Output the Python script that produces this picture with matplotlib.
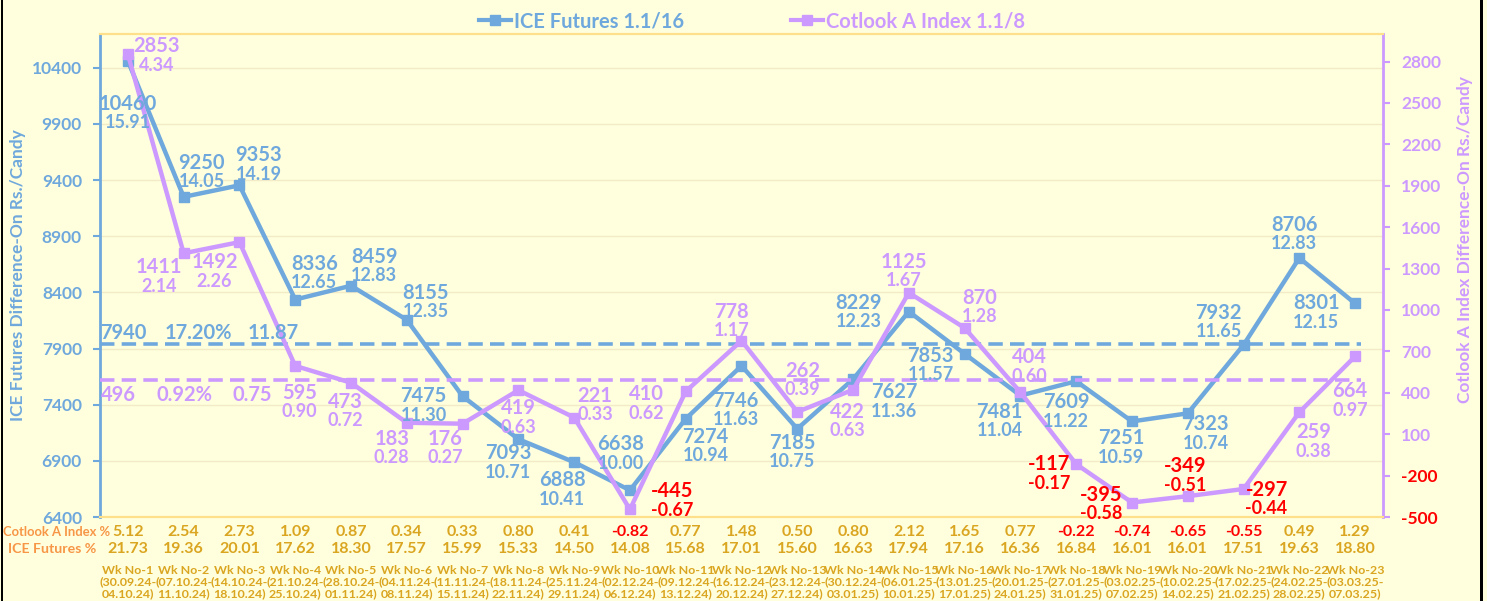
import matplotlib.pyplot as plt
from matplotlib.lines import Line2D
from matplotlib.patches import Rectangle
import matplotlib.transforms as mtransforms

plt.rcParams['font.family'] = ['Lato', 'DejaVu Sans']
plt.rcParams['font.weight'] = 'bold'

# data
weeks = list(range(1, 24))
ice = [10460, 9250, 9353, 8336, 8459, 8155, 7475, 7093, 6888, 6638, 7274, 7746,
       7185, 7627, 8229, 7853, 7481, 7609, 7251, 7323, 7932, 8706, 8301]
ice_pct = ['15.91', '14.05', '14.19', '12.65', '12.83', '12.35', '11.30', '10.71', '10.41',
           '10.00', '10.94', '11.63', '10.75', '11.36', '12.23', '11.57', '11.04', '11.22',
           '10.59', '10.74', '11.65', '12.83', '12.15']
cot = [2853, 1411, 1492, 595, 473, 183, 176, 419, 221, -445, 410, 778,
       262, 422, 1125, 870, 404, -117, -395, -349, -297, 259, 664]
cot_pct = ['4.34', '2.14', '2.26', '0.90', '0.72', '0.28', '0.27', '0.63', '0.33', '-0.67',
           '0.62', '1.17', '0.39', '0.63', '1.67', '1.28', '0.60', '-0.17', '-0.58', '-0.51',
           '-0.44', '0.38', '0.97']
ice_avg = 7940
ice_avg_texts = ['7940', '17.20%', '11.87']
cot_avg = 496
cot_avg_texts = ['496', '0.92%', '0.75']
cot_row = ['5.12', '2.54', '2.73', '1.09', '0.87', '0.34', '0.33', '0.80', '0.41', '-0.82',
           '0.77', '1.48', '0.50', '0.80', '2.12', '1.65', '0.77', '-0.22', '-0.74', '-0.65',
           '-0.55', '0.49', '1.29']
ice_row = ['21.73', '19.36', '20.01', '17.62', '18.30', '17.57', '15.99', '15.33', '14.50',
           '14.08', '15.68', '17.01', '15.60', '16.63', '17.94', '17.16', '16.36', '16.84',
           '16.01', '16.01', '17.51', '19.63', '18.80']
wk_start = ['30.09.24', '07.10.24', '14.10.24', '21.10.24', '28.10.24', '04.11.24', '11.11.24',
            '18.11.24', '25.11.24', '02.12.24', '09.12.24', '16.12.24', '23.12.24', '30.12.24',
            '06.01.25', '13.01.25', '20.01.25', '27.01.25', '03.02.25', '10.02.25', '17.02.25',
            '24.02.25', '03.03.25']
wk_end = ['04.10.24', '11.10.24', '18.10.24', '25.10.24', '01.11.24', '08.11.24', '15.11.24',
          '22.11.24', '29.11.24', '06.12.24', '13.12.24', '20.12.24', '27.12.24', '03.01.25',
          '10.01.25', '17.01.25', '24.01.25', '31.01.25', '07.02.25', '14.02.25', '21.02.25',
          '28.02.25', '07.03.25']

# label offsets in pixels (dx, dy; dy positive = down)
ice_off = [(0, 43), (18, -34), (19, -30), (19, -36), (23, -29), (19, -27), (-39, 0),
           (-10, 14), (-12, 18), (-9, -46), (20, 18), (-6, 35), (-5, 14), (41, 13),
           (-50, -9), (-34, 2), (-21, 16), (-10, 21), (-11, 17), (18, 11), (-25, -32),
           (-5, -33), (-39, 0)]
cot_off = [(29, -8), (-25, 14), (-25, 20), (4, 27), (-6, 19), (-15, 16), (-17, 15),
           (0, 18), (21, -22), (42, -18), (-39, 3), (-10, -29), (5, -41), (-6, 22),
           (-5, -31), (15, -30), (9, -35), (-27, 0), (-31, -8), (-3, -30), (23, 1),
           (14, 20), (-5, 35)]

blue = '#6FA8DC'
purple = '#CC99FF'
red = '#FF0000'
gold = '#DAA520'
orange = '#F79646'
bg = '#FFFFDD'

W, H = 1487, 601
fig = plt.figure(figsize=(W / 100, H / 100), dpi=100, facecolor=bg)
ax = fig.add_axes([100 / W, (H - 517) / H, (1383 - 100) / W, (517 - 34) / H])
ax.set_facecolor(bg)
ax2 = ax.twinx()

ax.plot(weeks, ice, color=blue, lw=3.2, marker='s', ms=6.5, zorder=3)
ax2.plot(weeks, cot, color=purple, lw=3.2, marker='s', ms=6.5, zorder=3)
ax.hlines(ice_avg, 0.5, 23.1, colors=blue, linestyles=(0, (4, 2)), lw=2.6, zorder=2)
ax2.hlines(cot_avg, 0.5, 23.1, colors=purple, linestyles=(0, (4, 2)), lw=2.6, zorder=2)

ax.set_xlim(0.5, 23.5)
ax.set_ylim(6400, 10700)
ax2.set_ylim(-500, 3000)
ax.set_yticks(range(6400, 10401, 500))
ax.set_yticklabels([str(t) for t in range(6400, 10401, 500)])
rt = list(range(-500, 2801, 300))
ax2.set_yticks(rt)
ax2.set_yticklabels([str(t) for t in rt])
ax.set_xticks([])
ax.tick_params(axis='y', colors=blue, labelsize=12.5, length=5, width=1.5, pad=8)
ax2.tick_params(axis='y', colors=purple, labelsize=12.5, length=5, width=1.5, pad=8)
for t, lab in zip(rt, ax2.get_yticklabels()):
    lab.set_color(red if t < 0 else purple)
ax.grid(axis='y', color='#F3EBC8', lw=1)

for a in (ax, ax2):
    a.spines['top'].set_color('#FFE08A')
    a.spines['bottom'].set_color('#FFE08A')
    a.spines['top'].set_linewidth(1.5)
    a.spines['bottom'].set_linewidth(1.5)
ax.spines['left'].set_color(blue)
ax.spines['left'].set_linewidth(2)
ax2.spines['left'].set_visible(False)
ax2.spines['right'].set_color(purple)
ax2.spines['right'].set_linewidth(2)
ax.spines['right'].set_visible(False)

fig.text(18 / W, 1 - 275 / H, 'ICE Futures Difference-On Rs./Candy', color=blue,
         fontsize=12.5, rotation=90, ha='center', va='center')
fig.text(1465 / W, 1 - 240 / H, 'Cotlook A Index Difference-On Rs./Candy', color=purple,
         fontsize=12.5, rotation=90, ha='center', va='center')

# data labels
for x, v, p, (dx, dy) in zip(weeks, ice, ice_pct, ice_off):
    ax2.annotate(str(v), (x, v), xycoords=ax.transData, xytext=(dx, -dy),
                 textcoords='offset pixels', ha='center', va='center',
                 color=blue, fontsize=14.5, zorder=5)
    ax2.annotate(p, (x, v), xycoords=ax.transData, xytext=(dx, -dy - 19),
                 textcoords='offset pixels', ha='center', va='center',
                 color=blue, fontsize=13, zorder=5)
for x, v, p, (dx, dy) in zip(weeks, cot, cot_pct, cot_off):
    c = red if v < 0 else purple
    ax2.annotate(str(v), (x, v), xytext=(dx, -dy), textcoords='offset pixels',
                 ha='center', va='center', color=c, fontsize=14.5, zorder=5)
    ax2.annotate(p, (x, v), xytext=(dx, -dy - 19), textcoords='offset pixels',
                 ha='center', va='center', color=c, fontsize=13, zorder=5)

# average labels
for xpx, s in zip([123, 198, 273], ice_avg_texts):
    ax2.annotate(s, (0.5 + (xpx - 100) / 55.8, ice_avg), xycoords=ax.transData,
                 xytext=(0, 11), textcoords='offset pixels', ha='center', va='center',
                 color=blue, fontsize=14.5)
for xpx, s in zip([118, 185, 252], cot_avg_texts):
    ax2.annotate(s, (0.5 + (xpx - 100) / 55.8, cot_avg), xytext=(0, -15),
                 textcoords='offset pixels', ha='center', va='center',
                 color=purple, fontsize=14.5)

# table under chart
trans = mtransforms.blended_transform_factory(ax.transData, fig.transFigure)
for x, c, i, s, e in zip(weeks, cot_row, ice_row, wk_start, wk_end):
    ax.text(x, 1 - 532 / H, c, transform=trans, ha='center', va='center', fontsize=11.5,
            color=red if c.startswith('-') else gold)
    ax.text(x, 1 - 549 / H, i, transform=trans, ha='center', va='center', fontsize=11.5,
            color=gold)
    ax.text(x, 1 - 582 / H, 'Wk No-%d\n(%s-\n%s)' % (x, s, e), transform=trans,
            ha='center', va='center', fontsize=8.9, color=gold, linespacing=1.08)
fig.text(3 / W, 1 - 532 / H, 'Cotlook A Index %', color=orange, fontsize=9.4,
         ha='left', va='center')
fig.text(8 / W, 1 - 549 / H, 'ICE Futures %', color=orange, fontsize=10.2,
         ha='left', va='center')

# legend
handles = [Line2D([], [], color=blue, lw=3, marker='s', ms=6.5),
           Line2D([], [], color=purple, lw=3, marker='s', ms=6.5)]
fig.legend(handles, ['ICE Futures 1.1/16', 'Cotlook A Index 1.1/8'], loc='center',
           bbox_to_anchor=(752 / W, 1 - 21 / H), ncol=2, frameon=False, fontsize=14.5,
           handlelength=1.6, handletextpad=0.15, columnspacing=5.3, labelcolor='linecolor')

# side borders
fig.add_artist(Rectangle((0.001, 0), 2 / W, 1, transform=fig.transFigure,
                         color='black', lw=0))
fig.add_artist(Rectangle((1480 / W, 0), 2.5 / W, 1, transform=fig.transFigure,
                         color='black', lw=0))

fig.savefig('out.png', dpi=100, facecolor=bg)
